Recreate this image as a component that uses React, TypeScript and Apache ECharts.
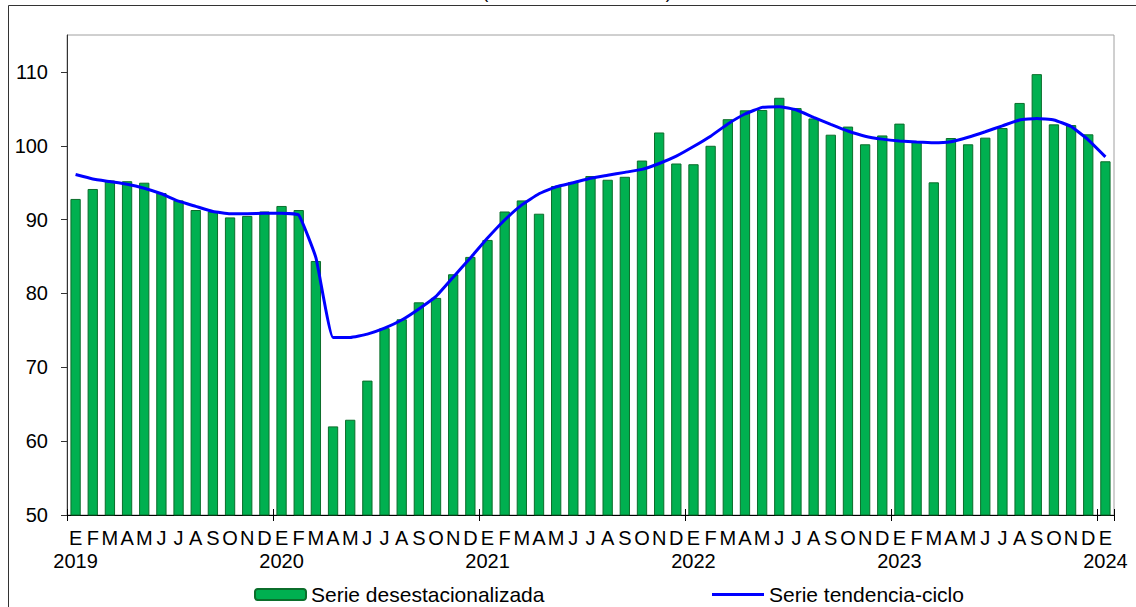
import React, { useEffect, useRef } from "react";
import * as echarts from "echarts";

const monthLetters = ["E", "F", "M", "A", "M", "J", "J", "A", "S", "O", "N", "D"];
const years = ["2019", "2020", "2021", "2022", "2023", "2024"];

const seasonallyAdjusted = [
  // 2019
  92.8, 94.15, 95.3, 95.2, 95.0, 93.6, 92.6, 91.3, 91.1, 90.3, 90.5, 91.1,
  // 2020
  91.85, 91.3, 84.4, 62.0, 62.9, 68.2, 75.3, 76.5, 78.8, 79.4, 82.6, 84.95,
  // 2021
  87.25, 91.1, 92.6, 90.8, 94.55, 95.1, 95.9, 95.4, 95.8, 98.0, 101.8, 97.6,
  // 2022
  97.5, 100.0, 103.6, 104.8, 104.85, 106.5, 105.1, 103.7, 101.5, 102.6, 100.2, 101.4,
  // 2023
  103.0, 100.65, 95.05, 101.05, 100.2, 101.1, 102.4, 105.8, 109.7, 102.9, 102.8, 101.55,
  // 2024
  97.9,
];

const trendCycle = [
  // 2019
  96.1, 95.5, 95.15, 94.8, 94.25, 93.5, 92.5, 91.8, 91.1, 90.8, 90.8, 90.85,
  // 2020
  90.85, 90.6, 84.85, 74.05, 74.05, 74.5, 75.3, 76.4, 77.9, 79.6, 82.2, 84.8,
  // 2021
  87.5, 89.95, 92.0, 93.5, 94.45, 95.0, 95.6, 96.0, 96.4, 96.8, 97.6, 98.6,
  // 2022
  99.9, 101.3, 102.95, 104.3, 105.2, 105.3, 104.85, 103.85, 102.9, 102.0, 101.3, 100.9,
  // 2023
  100.65, 100.5, 100.4, 100.55, 101.15, 101.9, 102.7, 103.5, 103.7, 103.5, 102.6, 100.8,
  // 2024
  98.5,
];

const yTicks = [50, 60, 70, 80, 90, 100, 110];

const barName = "Serie desestacionalizada";
const lineName = "Serie tendencia-ciclo";
const titleText = "(Índice base 2018=100)";

const categories: string[] = seasonallyAdjusted.map((_, i) => {
  const m = i % 12;
  const letter = monthLetters[m];
  return m === 0 ? `${letter}\n${years[Math.floor(i / 12)]}` : letter;
});

const FONT = "'Liberation Sans', Arial, sans-serif";

export default function App() {
  const ref = useRef<HTMLDivElement>(null);

  useEffect(() => {
    if (!ref.current) return;
    const chart = echarts.init(ref.current, undefined, { renderer: "svg" });
    const tickInterval = (index: number) => index % 12 === 0;
    chart.setOption({
      animation: false,
      backgroundColor: "#ffffff",
      textStyle: { fontFamily: FONT },
      graphic: [
        {
          type: "rect",
          silent: true,
          shape: { x: 8.5, y: 5.5, width: 1140, height: 620 },
          style: { fill: "none", stroke: "#333333", lineWidth: 1 },
          z: 0,
        },
        {
          type: "text",
          silent: true,
          x: 577,
          y: 1,
          style: {
            text: titleText,
            fill: "#000000",
            font: `18px ${FONT}`,
            textAlign: "center",
            textVerticalAlign: "bottom",
          },
        },
      ],
      grid: {
        left: 67,
        right: 22,
        top: 35,
        bottom: 92,
        containLabel: false,
        show: true,
        borderColor: "#a0a0a0",
        borderWidth: 1,
        backgroundColor: "transparent",
      },
      legend: [
        {
          data: [{ name: barName }],
          left: 254,
          top: 584,
          padding: 0,
          itemWidth: 51,
          itemHeight: 11,
          textStyle: { fontSize: 21, color: "#000", fontFamily: FONT, lineHeight: 20 },
        },
        {
          data: [{ name: lineName, icon: "rect" }],
          left: 712,
          top: 584,
          padding: 0,
          itemWidth: 52,
          itemHeight: 3,
          itemStyle: { color: "#0000ff", borderWidth: 0 },
          textStyle: { fontSize: 21, color: "#000", fontFamily: FONT, lineHeight: 20 },
        },
      ],
      xAxis: [
        {
          type: "category",
          data: categories,
          boundaryGap: true,
          axisLine: { show: true, lineStyle: { color: "#000", width: 1 } },
          axisTick: {
            show: true,
            interval: tickInterval,
            length: 6,
            lineStyle: { color: "#000" },
          },
          axisLabel: {
            interval: 0,
            hideOverlap: false,
            fontSize: 20,
            lineHeight: 23,
            margin: 11,
            color: "#000",
            fontFamily: FONT,
            align: "center",
          },
          splitLine: { show: false },
        },
        {
          type: "category",
          data: categories,
          position: "bottom",
          boundaryGap: true,
          axisLine: { show: false },
          axisTick: {
            show: true,
            inside: true,
            interval: tickInterval,
            length: 6,
            lineStyle: { color: "#000" },
          },
          axisLabel: { show: false },
          splitLine: { show: false },
        },
      ],
      yAxis: {
        type: "value",
        min: 50,
        max: 115,
        interval: 10,
        axisLine: { show: true, lineStyle: { color: "#333", width: 1 } },
        axisTick: {
          show: true,
          length: 6,
          lineStyle: { color: "#333" },
          customValues: yTicks,
        },
        axisLabel: {
          fontSize: 20,
          margin: 19,
          color: "#000",
          fontFamily: FONT,
          customValues: yTicks,
        },
        splitLine: { show: false },
      },
      series: [
        {
          name: barName,
          type: "bar",
          data: seasonallyAdjusted,
          xAxisIndex: 0,
          barCategoryGap: "40%",
          itemStyle: { color: "#00b050", borderColor: "#0b6e2b", borderWidth: 1 },
          emphasis: { disabled: true },
          z: 2,
        },
        {
          name: lineName,
          type: "line",
          data: trendCycle,
          xAxisIndex: 0,
          smooth: 0.12,
          symbol: "none",
          showSymbol: false,
          lineStyle: { color: "#0000ff", width: 3 },
          itemStyle: { color: "#0000ff" },
          emphasis: { disabled: true },
          z: 3,
        },
      ],
    });
    return () => chart.dispose();
  }, []);

  return (
    <div
      ref={ref}
      style={{ position: "fixed", left: 0, top: 0, width: 1136, height: 607 }}
    />
  );
}
